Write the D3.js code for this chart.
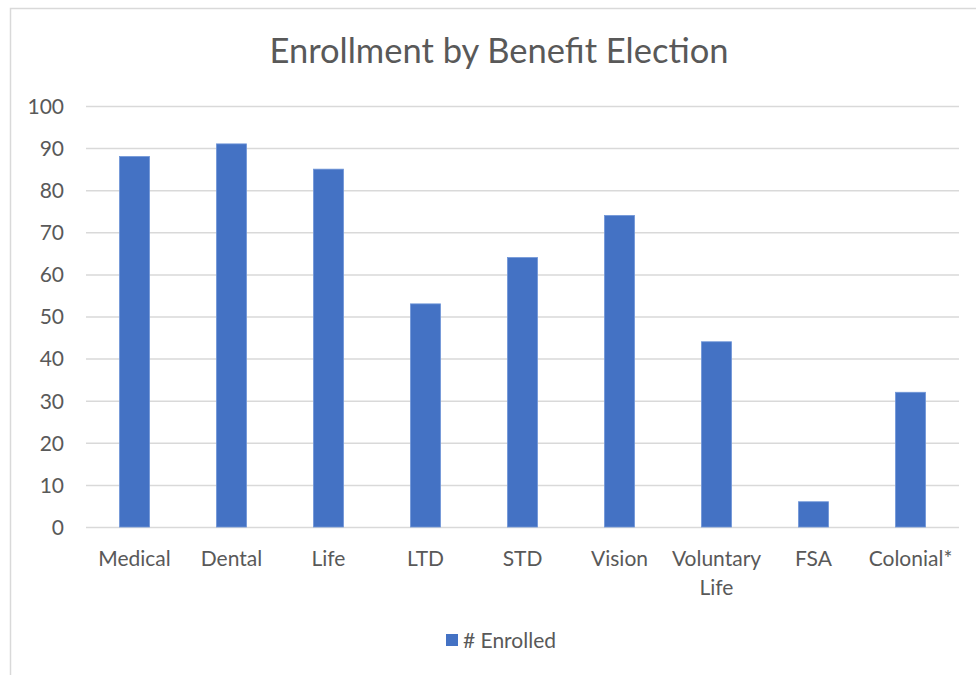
<!DOCTYPE html>
<html><head><meta charset="utf-8">
<script src="https://cdn.jsdelivr.net/npm/d3@7"></script>
<style>html,body{margin:0;padding:0;background:#fff}svg{display:block}</style>
</head><body>
<svg id="chart" width="976" height="675"></svg>
<script>
const categories = ["Medical","Dental","Life","LTD","STD","Vision","Voluntary Life","FSA","Colonial*"];
const enrolled = [88,91,85,53,64,74,44,6,32];
const yTicks = [0,10,20,30,40,50,60,70,80,90,100];
const seriesName = "# Enrolled";
const titleText = "Enrollment by Benefit Election";

(function(){
const svg = d3.select("#chart");
const font = "Lato, 'Open Sans', sans-serif";
const gray = "#595959";
const fs = 21;

svg.append("rect").attr("x",10.5).attr("y",8.5).attr("width",980).attr("height",700)
  .attr("fill","#fff").attr("stroke","#d9d9d9").attr("stroke-width",1.5);

const pl = 86, pr = 959, pt = 106, pb = 527;
const x = d3.scaleBand().domain(categories).range([pl,pr]).paddingInner(0.69).paddingOuter(0.345);
const y = d3.scaleLinear().domain([0,100]).range([pb,pt]);

svg.append("text").attr("x",499).attr("y",63).attr("text-anchor","middle")
  .attr("font-family",font).attr("font-size",34.5).attr("fill",gray).text(titleText);

const yAxis = d3.axisLeft(y).tickValues(yTicks).tickSize(-(pr-pl)).tickPadding(22);
const gy = svg.append("g").attr("transform",`translate(${pl},0)`).call(yAxis);
gy.select(".domain").remove();
gy.selectAll(".tick line").attr("stroke","#d9d9d9").attr("stroke-width",1.5).attr("x1",pr-pl).attr("x2",0);
gy.selectAll(".tick text").attr("font-family",font).attr("font-size",fs).attr("fill",gray).attr("dy","0.35em");

svg.append("g").selectAll("rect").data(enrolled).join("rect")
  .attr("x",(d,i)=>x(categories[i])).attr("width",x.bandwidth())
  .attr("y",d=>y(d)).attr("height",d=>y(0)-y(d))
  .attr("fill","#4472C4").attr("stroke","#7096d8").attr("stroke-width",0.8);

const xAxis = d3.axisBottom(x).tickSize(0).tickPadding(0);
const gx = svg.append("g").attr("transform",`translate(0,${pb})`).call(xAxis);
gx.select(".domain").remove();
gx.selectAll(".tick text").attr("font-family",font).attr("font-size",fs).attr("fill",gray)
  .attr("dy",null).attr("y",39)
  .each(function(d){
    const t = d3.select(this);
    const words = d.split(" ");
    if (words.length > 1) {
      t.text(null);
      words.forEach((w,k)=>t.append("tspan").attr("x",0).attr("y",39 + k*29).text(w));
    }
  });

const lg = svg.append("g");
lg.append("rect").attr("x",446).attr("y",634).attr("width",12).attr("height",12).attr("fill","#4472C4");
lg.append("text").attr("x",463).attr("y",648).attr("font-family",font).attr("font-size",fs).attr("fill",gray).text(seriesName);
})();
</script>
</body></html>
